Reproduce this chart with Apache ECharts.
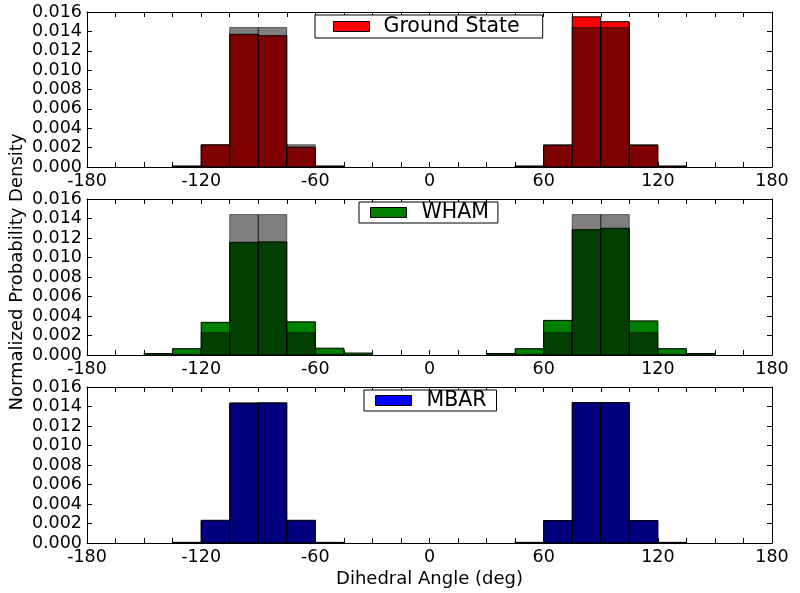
<!DOCTYPE html>
<html>
<head>
<meta charset="utf-8">
<script src="https://cdn.jsdelivr.net/npm/echarts@6/dist/echarts.min.js"></script>
<style>html,body{margin:0;padding:0;background:#fff;}#c{width:800px;height:593px;}</style>
</head>
<body>
<div id="c"></div>
<script>
// Bin edges (deg)
const binEdges = [-180,-165,-150,-135,-120,-105,-90,-75,-60,-45,-30,-15,0,15,30,45,60,75,90,105,120,135,150,165,180];
// Reference distribution (grey overlay)
const reference = [0,0,0,0.00008,0.0023,0.0144,0.0144,0.0023,0.00008,0,0,0,0,0,0,0.00008,0.0023,0.0144,0.0144,0.0023,0.00008,0,0,0];
// Ground state
const groundState = [0,0,0,0.0001,0.00228,0.0137,0.01355,0.00205,0.0001,0,0,0,0,0,0,0.0001,0.00225,0.0155,0.0150,0.00225,0.0001,0,0,0];
// WHAM
const wham = [0,0,0.00015,0.00065,0.00335,0.01155,0.0116,0.0034,0.0007,0.0002,0,0,0,0,0.00015,0.00065,0.00355,0.01285,0.0130,0.0035,0.00065,0.00015,0,0];
// MBAR
const mbar = [0,0,0,0.00005,0.00233,0.0143,0.01435,0.00233,0.00005,0,0,0,0,0,0,0.00005,0.0023,0.0144,0.0144,0.0023,0.00005,0,0,0];

const panelNames = ['Ground State','WHAM','MBAR'];
const panelValues = [groundState, wham, mbar];
const panelColors = ['#ff0000','#008000','#0000ff'];
const xTicks = { min: -180, max: 180, interval: 60 };
const yTicks = { min: 0, max: 0.016, interval: 0.002 };

const FONT = 'DejaVu Sans';
const gridTops = [12, 199, 387];
const gridHeights = [155, 156, 156];

function toData(vals){
  const out = [];
  for (let i = 0; i < vals.length; i++) {
    if (vals[i] > 0) out.push([binEdges[i], binEdges[i+1], vals[i]]);
  }
  return out;
}
function makeRender(fill, stroke){
  return function(params, api){
    const p0 = api.coord([api.value(0), 0]);
    const p1 = api.coord([api.value(1), api.value(2)]);
    return {
      type: 'rect',
      shape: { x: p0[0], y: p1[1], width: p1[0]-p0[0], height: p0[1]-p1[1] },
      style: { fill: fill, stroke: stroke, lineWidth: 1 }
    };
  };
}

const grid = [], xAxis = [], yAxis = [], series = [], legend = [];
const legendPos = [
  {left: 315, top: 15, padding: [1,23,1,18], gap: 9},
  {left: 359, top: 202, padding: [0,9,0,11], gap: 10},
  {left: 364, top: 390, padding: [0,10,0,11], gap: 10}
];
for (let g = 0; g < 3; g++) {
  grid.push({ left: 87, right: 28, top: gridTops[g], height: gridHeights[g] });
  const axLine = { show: true, onZero: false, lineStyle: { color: '#000', width: 1 } };
  xAxis.push({
    type: 'value', gridIndex: g, position: 'bottom',
    min: xTicks.min, max: xTicks.max, interval: xTicks.interval,
    axisLine: axLine, splitLine: { show: false },
    axisTick: { show: true, inside: true, length: 5, lineStyle: { color: '#000' } },
    minorTick: { show: true, splitNumber: 4, length: 5, lineStyle: { color: '#000' } },
    axisLabel: { color: '#000', fontFamily: FONT, fontSize: 17.5, margin: 5 },
    name: g === 2 ? 'Dihedral Angle (deg)' : '',
    nameLocation: 'middle', nameGap: 27,
    nameTextStyle: { color: '#000', fontFamily: FONT, fontSize: 18 }
  });
  xAxis.push({
    type: 'value', gridIndex: g, position: 'top',
    min: xTicks.min, max: xTicks.max, interval: xTicks.interval,
    axisLine: axLine, splitLine: { show: false },
    axisTick: { show: true, inside: true, length: 5, lineStyle: { color: '#000' } },
    minorTick: { show: true, splitNumber: 4, length: 5, lineStyle: { color: '#000' } },
    axisLabel: { show: false }
  });
  yAxis.push({
    type: 'value', gridIndex: g, position: 'left',
    min: yTicks.min, max: yTicks.max, interval: yTicks.interval,
    axisLine: axLine, splitLine: { show: false },
    axisTick: { show: true, inside: true, length: 5, lineStyle: { color: '#000' } },
    axisLabel: { color: '#000', fontFamily: FONT, fontSize: 17.5, margin: 5,
      formatter: v => v.toFixed(3) }
  });
  yAxis.push({
    type: 'value', gridIndex: g, position: 'right',
    min: yTicks.min, max: yTicks.max, interval: yTicks.interval,
    axisLine: axLine, splitLine: { show: false },
    axisTick: { show: true, inside: true, length: 5, lineStyle: { color: '#000' } },
    axisLabel: { show: false }
  });
  series.push({
    type: 'custom', name: panelNames[g],
    xAxisIndex: 2*g, yAxisIndex: 2*g,
    itemStyle: { color: panelColors[g], borderColor: '#000', borderWidth: 1 },
    encode: { x: [0,1], y: 2 },
    renderItem: makeRender(panelColors[g], '#000'),
    data: toData(panelValues[g]), z: 2, silent: true
  });
  series.push({
    type: 'custom', name: 'reference' + g,
    xAxisIndex: 2*g, yAxisIndex: 2*g,
    itemStyle: { color: 'rgba(0,0,0,0.5)' },
    encode: { x: [0,1], y: 2 },
    renderItem: makeRender('rgba(0,0,0,0.5)', 'rgba(0,0,0,0.5)'),
    data: toData(reference), z: 3, silent: true
  });
  const lp = legendPos[g];
  legend.push({
    data: [panelNames[g]], left: lp.left, top: lp.top, padding: lp.padding,
    orient: 'horizontal',
    backgroundColor: '#fff', borderColor: '#000', borderWidth: 1, borderRadius: 0,
    itemWidth: 36, itemHeight: 10, icon: 'rect',
    itemStyle: { borderColor: '#000', borderWidth: 1 },
    textStyle: { color: '#000', fontFamily: FONT, fontSize: 20.5, lineHeight: 19, padding: [0,0,0,lp.gap] },
    selectedMode: false
  });
}

const chart = echarts.init(document.getElementById('c'), null, { renderer: 'canvas' });
chart.setOption({
  animation: false,
  backgroundColor: '#fff',
  grid, xAxis, yAxis, series, legend,
  graphic: [{
    type: 'text', x: 17, y: 272, rotation: Math.PI/2,
    style: { text: 'Normalized Probability Density', fill: '#000', font: '18px "DejaVu Sans"',
      textAlign: 'center', textVerticalAlign: 'middle' }
  }]
});
</script>
</body>
</html>
